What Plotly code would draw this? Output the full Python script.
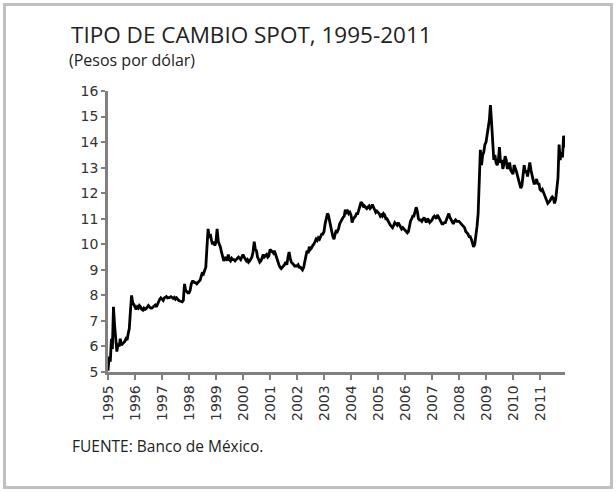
import plotly.graph_objects as go
import datetime as dt

# Semi-monthly readings (1st and 16th of each month), pesos per dollar
years = list(range(1995, 2012))
v1995 = [5.05, 5.6, 5.4, 6.3, 5.9, 7.55, 6.8, 6.2, 5.8, 6.1, 6.0, 6.3, 6.05, 6.1, 6.15, 6.2, 6.3, 6.25, 6.5, 6.7, 7.4, 8.0, 7.7, 7.65]
v1996 = [7.55, 7.45, 7.55, 7.5, 7.6, 7.55, 7.45, 7.42, 7.5, 7.45, 7.48, 7.55, 7.6, 7.55, 7.5, 7.5, 7.55, 7.6, 7.62, 7.55, 7.7, 7.75, 7.85, 7.9]
v1997 = [7.85, 7.8, 7.9, 7.95, 7.95, 7.9, 7.9, 7.92, 7.95, 7.9, 7.88, 7.92, 7.85, 7.9, 7.82, 7.8, 7.78, 7.75, 7.75, 7.8, 8.45, 8.2, 8.15, 8.1]
v1998 = [8.1, 8.2, 8.45, 8.55, 8.55, 8.5, 8.5, 8.45, 8.5, 8.55, 8.6, 8.75, 8.9, 8.85, 8.95, 9.1, 9.9, 10.6, 10.25, 10.4, 10.15, 10.0, 10.1, 9.95]
v1999 = [10.1, 10.6, 10.1, 10.0, 9.9, 9.7, 9.5, 9.35, 9.45, 9.5, 9.35, 9.6, 9.4, 9.35, 9.45, 9.4, 9.4, 9.35, 9.4, 9.45, 9.5, 9.45, 9.4, 9.5]
v2000 = [9.6, 9.5, 9.4, 9.35, 9.4, 9.3, 9.35, 9.45, 9.5, 9.7, 10.1, 9.8, 9.75, 9.5, 9.35, 9.3, 9.35, 9.5, 9.6, 9.5, 9.55, 9.6, 9.5, 9.55]
v2001 = [9.8, 9.75, 9.7, 9.65, 9.75, 9.6, 9.45, 9.3, 9.2, 9.1, 9.05, 9.1, 9.15, 9.2, 9.3, 9.2, 9.5, 9.7, 9.45, 9.3, 9.25, 9.2, 9.15, 9.15]
v2002 = [9.15, 9.2, 9.1, 9.1, 9.05, 9.0, 9.1, 9.3, 9.5, 9.75, 9.65, 9.9, 9.8, 9.85, 9.95, 10.0, 10.1, 10.2, 10.15, 10.25, 10.2, 10.3, 10.4, 10.4]
v2003 = [10.5, 10.8, 11.0, 11.2, 11.15, 10.9, 10.6, 10.5, 10.3, 10.2, 10.4, 10.55, 10.5, 10.6, 10.8, 10.9, 10.95, 11.05, 11.1, 11.35, 11.25, 11.3, 11.2, 11.25]
v2004 = [11.15, 10.85, 11.0, 11.05, 11.1, 11.2, 11.2, 11.35, 11.5, 11.65, 11.6, 11.45, 11.5, 11.45, 11.4, 11.45, 11.5, 11.4, 11.45, 11.55, 11.4, 11.35, 11.25, 11.3]
v2005 = [11.25, 11.2, 11.1, 11.15, 11.1, 11.2, 11.15, 11.0, 11.0, 10.9, 10.8, 10.75, 10.7, 10.65, 10.75, 10.85, 10.8, 10.75, 10.85, 10.75, 10.65, 10.6, 10.65, 10.6]
v2006 = [10.55, 10.5, 10.45, 10.5, 10.7, 10.9, 11.0, 11.1, 11.1, 11.3, 11.45, 11.3, 11.0, 10.95, 10.95, 10.9, 11.0, 11.05, 10.95, 10.85, 11.0, 10.95, 10.85, 10.9]
v2007 = [10.95, 11.05, 11.1, 11.05, 11.0, 11.15, 11.05, 10.95, 10.85, 10.8, 10.8, 10.85, 10.85, 10.95, 11.1, 11.2, 11.05, 10.95, 10.85, 10.8, 10.9, 10.95, 10.9, 10.9]
v2008 = [10.9, 10.85, 10.8, 10.75, 10.7, 10.65, 10.5, 10.45, 10.4, 10.3, 10.3, 10.2, 10.05, 9.9, 10.0, 10.3, 10.7, 11.2, 12.9, 13.7, 13.1, 13.5, 13.6, 13.9]
v2009 = [14.0, 14.4, 14.6, 14.9, 15.45, 14.8, 14.0, 13.3, 13.5, 13.2, 13.1, 13.25, 13.8, 13.2, 13.3, 12.95, 13.15, 13.45, 13.3, 12.95, 13.05, 13.2, 12.9, 12.8]
v2010 = [12.75, 13.1, 13.0, 12.85, 12.7, 12.5, 12.3, 12.2, 12.3, 12.7, 13.1, 12.8, 12.9, 12.65, 12.95, 13.2, 12.9, 12.6, 12.5, 12.35, 12.45, 12.55, 12.35, 12.4]
v2011 = [12.15, 12.1, 12.15, 12.05, 11.95, 11.85, 11.75, 11.6, 11.65, 11.7, 11.8, 11.85, 11.8, 11.6, 11.75, 12.3, 12.6, 13.9, 13.3, 13.6, 13.4, 14.25, 13.8, 13.95]

series = [v1995, v1996, v1997, v1998, v1999, v2000, v2001, v2002, v2003,
          v2004, v2005, v2006, v2007, v2008, v2009, v2010, v2011]

dates, values = [], []
for y, vals in zip(years, series):
    for i, v in enumerate(vals):
        dates.append(dt.date(y, i // 2 + 1, 1 if i % 2 == 0 else 16))
        values.append(v)

W, H = 616, 492
L, R, T, B = 108, 51, 91, 120
pw, ph = W - L - R, H - T - B

def px(x):
    return (x - L) / pw

def py(y):
    return (H - B - y) / ph

fig = go.Figure()
fig.add_trace(go.Scatter(x=dates, y=values, mode="lines",
                         line=dict(color="black", width=2.8), showlegend=False))

fig.update_xaxes(type="date", range=["1995-01-01", "2011-12-05"],
                 tickmode="linear", tick0="1995-01-01", dtick="M12",
                 tickformat="%Y", tickangle=-90,
                 tickfont=dict(family="DejaVu Sans", size=14, color="#333333"),
                 showline=True, linecolor="#808080", linewidth=2.5,
                 ticks="outside", ticklen=5, tickwidth=2, tickcolor="#808080",
                 showgrid=False, zeroline=False)
fig.update_yaxes(range=[5, 16], dtick=1,
                 tickfont=dict(family="DejaVu Sans", size=14, color="#333333"),
                 showline=True, linecolor="#808080", linewidth=2.5,
                 ticks="outside", ticklen=4, tickwidth=2, tickcolor="#808080",
                 showgrid=False, zeroline=False)

fig.add_annotation(text="TIPO DE CAMBIO SPOT, 1995-2011", xref="paper", yref="paper",
                   x=px(69), y=py(34), xanchor="left", yanchor="middle", showarrow=False,
                   font=dict(family="Open Sans", size=22.5, color="#222222"))
fig.add_annotation(text="(Pesos por dólar)", xref="paper", yref="paper",
                   x=px(67), y=py(60), xanchor="left", yanchor="middle", showarrow=False,
                   font=dict(family="Open Sans", size=16, color="#222222"))
fig.add_annotation(text="FUENTE: Banco de México.", xref="paper", yref="paper",
                   x=px(70), y=py(446), xanchor="left", yanchor="middle", showarrow=False,
                   font=dict(family="Open Sans", size=15.5, color="#222222"))

fig.add_shape(type="rect", xref="paper", yref="paper",
              x0=px(4.5), x1=px(611.5), y0=py(487.5), y1=py(4.5),
              line=dict(color="#c0c0c0", width=3), fillcolor="rgba(0,0,0,0)", layer="below")

fig.update_layout(width=W, height=H, margin=dict(l=L, r=R, t=T, b=B),
                  paper_bgcolor="white", plot_bgcolor="white")

fig.write_html("out.html", config={"displayModeBar": False},
               post_script="document.body.style.margin='0';document.body.style.overflow='hidden';")
